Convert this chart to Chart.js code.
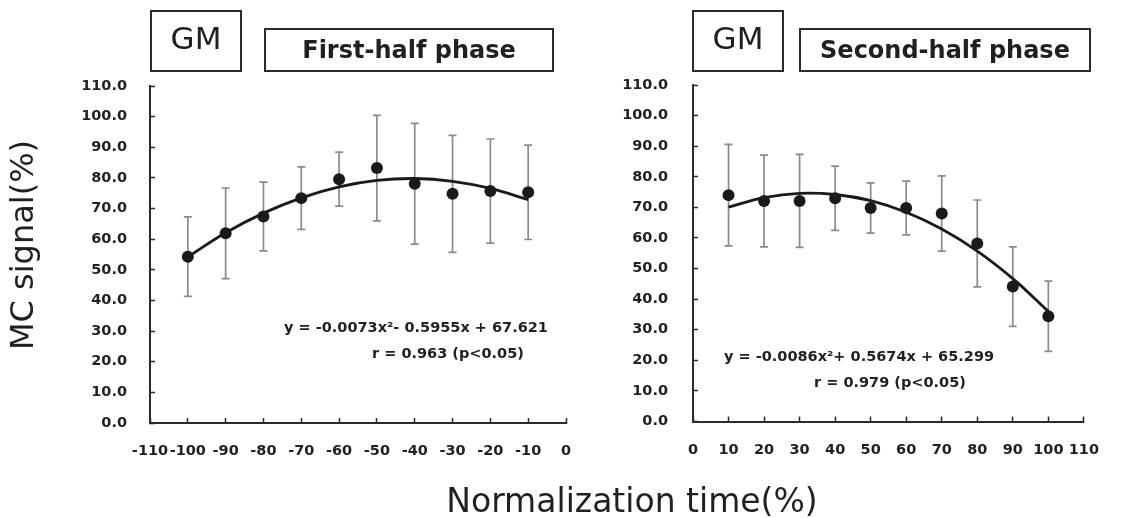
<!DOCTYPE html>
<html>
<head>
<meta charset="utf-8">
<script src="https://cdn.jsdelivr.net/npm/chart.js@4.4.1/dist/chart.umd.min.js"></script>
<style>
  body { margin: 0; background: #fff; }
  #page { position: relative; width: 1124px; height: 518px; overflow: hidden; font-family: 'DejaVu Sans', sans-serif; color: #231f20; }
  canvas { position: absolute; top: 0; }
  .box { position: absolute; border: 2px solid #2b2b2b; box-sizing: border-box; }
  .txt { position: absolute; white-space: nowrap; line-height: 1; }
  .gm { font-size: 31px; }
  .phase { font-size: 24px; font-weight: bold; }
  .eq { font-size: 14.5px; font-weight: bold; }
</style>
</head>
<body>
<div id="page">
  <canvas id="Wykres_1" width="600" height="518" style="left:0"></canvas>
  <canvas id="Wykres_2" width="524" height="518" style="left:600px"></canvas>

  <div class="box" style="left:150px; top:10px; width:92px; height:62px;"></div>
  <div class="txt gm" style="left:150px; width:92px; text-align:center; top:23px;">GM</div>
  <div class="box" style="left:264px; top:28px; width:290px; height:44px;"></div>
  <div class="txt phase" style="left:264px; width:290px; text-align:center; top:38px;">First-half phase</div>

  <div class="box" style="left:692px; top:10px; width:92px; height:62px;"></div>
  <div class="txt gm" style="left:692px; width:92px; text-align:center; top:23px;">GM</div>
  <div class="box" style="left:799px; top:28px; width:292px; height:44px;"></div>
  <div class="txt phase" style="left:799px; width:292px; text-align:center; top:38px;">Second-half phase</div>

  <div class="txt eq" style="left:284px; top:320px;">y = -0.0073x²- 0.5955x + 67.621</div>
  <div class="txt eq" style="left:372px; top:346px;">r = 0.963 (p&lt;0.05)</div>
  <div class="txt eq" style="left:724px; top:349px;">y = -0.0086x²+ 0.5674x + 65.299</div>
  <div class="txt eq" style="left:814px; top:375px;">r = 0.979 (p&lt;0.05)</div>

  <div class="txt" style="font-size:32px; left:-86px; width:216px; text-align:center; top:229px; transform:rotate(-90deg);">MC signal(%)</div>
  <div class="txt" style="font-size:33px; left:432px; width:400px; text-align:center; top:484px;">Normalization time(%)</div>
</div>

<script>
// first-half phase
const timeFirst = [-100, -90, -80, -70, -60, -50, -40, -30, -20, -10];
const meanFirst = [54.3, 61.9, 67.4, 73.4, 79.6, 83.2, 78.1, 74.8, 75.7, 75.3];
const sdFirst = [13.0, 14.8, 11.2, 10.2, 8.8, 17.2, 19.7, 19.1, 17.0, 15.4];
const fitFirst = [54.2, 62.1, 68.5, 73.5, 77.1, 79.2, 79.8, 78.9, 76.6, 72.9];

// second-half phase
const timeSecond = [10, 20, 30, 40, 50, 60, 70, 80, 90, 100];
const meanSecond = [74.0, 72.1, 72.1, 73.0, 69.8, 69.8, 68.0, 58.2, 44.1, 34.4];
const sdSecond = [16.6, 15.0, 15.2, 10.5, 8.2, 8.8, 12.3, 14.2, 13.0, 11.5];
const fitSecond = [70.1, 73.2, 74.6, 74.2, 72.2, 68.4, 62.9, 55.7, 46.7, 36.0];

const yMin = 0, yMax = 110, yStep = 10;

Chart.defaults.font.family = "'DejaVu Sans', sans-serif";
Chart.defaults.font.size = 14.5;
Chart.defaults.font.weight = 'bold';
Chart.defaults.color = '#231f20';

const errorBars = {
    id: 'errorBars',
    beforeDatasetsDraw(chart, args, opts) {
        const ctx = chart.ctx;
        const x = chart.scales.x, y = chart.scales.y;
        ctx.save();
        ctx.strokeStyle = '#8a8a8a';
        ctx.lineWidth = 1.7;
        opts.xs.forEach((v, i) => {
            const px = x.getPixelForValue(v);
            const top = y.getPixelForValue(opts.mean[i] + opts.sd[i]);
            const bot = y.getPixelForValue(opts.mean[i] - opts.sd[i]);
            ctx.beginPath();
            ctx.moveTo(px, top); ctx.lineTo(px, bot);
            ctx.moveTo(px - 4, top); ctx.lineTo(px + 4, top);
            ctx.moveTo(px - 4, bot); ctx.lineTo(px + 4, bot);
            ctx.stroke();
        });
        ctx.restore();
    }
};

function makeChart(id, xs, mean, sd, fit, xMin, xMax, box) {
    const ctx = document.getElementById(id).getContext('2d');
    return new Chart(ctx, {
        type: 'line',
        data: {
            datasets: [{
                data: xs.map((v, i) => ({ x: v, y: mean[i] })),
                showLine: false,
                pointRadius: 6,
                pointBackgroundColor: '#1a1a1a',
                pointBorderColor: '#1a1a1a',
                pointBorderWidth: 0
            }, {
                data: xs.map((v, i) => ({ x: v, y: fit[i] })),
                borderColor: '#1a1a1a',
                borderWidth: 2.8,
                pointRadius: 0,
                tension: 0.4,
                fill: false
            }]
        },
        options: {
            responsive: false,
            animation: false,
            layout: {
                autoPadding: false,
                padding: { left: 0, right: box.right, top: box.top, bottom: 0 }
            },
            scales: {
                x: {
                    type: 'linear',
                    min: xMin,
                    max: xMax,
                    afterFit: (s) => { s.height = box.xHeight; },
                    ticks: { stepSize: 10, autoSkip: false, maxRotation: 0, padding: 25 },
                    grid: { drawOnChartArea: false, tickLength: -5, tickColor: '#2b2b2b', tickWidth: 1.5 },
                    border: { color: '#2b2b2b', width: 2 }
                },
                y: {
                    min: yMin,
                    max: yMax,
                    afterFit: (s) => { s.width = box.yWidth; },
                    ticks: { stepSize: yStep, padding: box.yPad, callback: (v) => v.toFixed(1) },
                    grid: { drawOnChartArea: false, tickLength: -5, tickColor: '#2b2b2b', tickWidth: 1.5 },
                    border: { color: '#2b2b2b', width: 2 }
                }
            },
            plugins: {
                legend: { display: false },
                tooltip: { enabled: false },
                errorBars: { xs: xs, mean: mean, sd: sd }
            }
        },
        plugins: [errorBars]
    });
}

document.addEventListener("DOMContentLoaded", function() {
    makeChart('Wykres_1', timeFirst, meanFirst, sdFirst, fitFirst, -110, 0,
        { right: 34, top: 86, xHeight: 95, yWidth: 150, yPad: 28 });
    makeChart('Wykres_2', timeSecond, meanSecond, sdSecond, fitSecond, 0, 110,
        { right: 28, top: 85, xHeight: 96.5, yWidth: 93, yPad: 30 });
});
</script>
</body>
</html>
